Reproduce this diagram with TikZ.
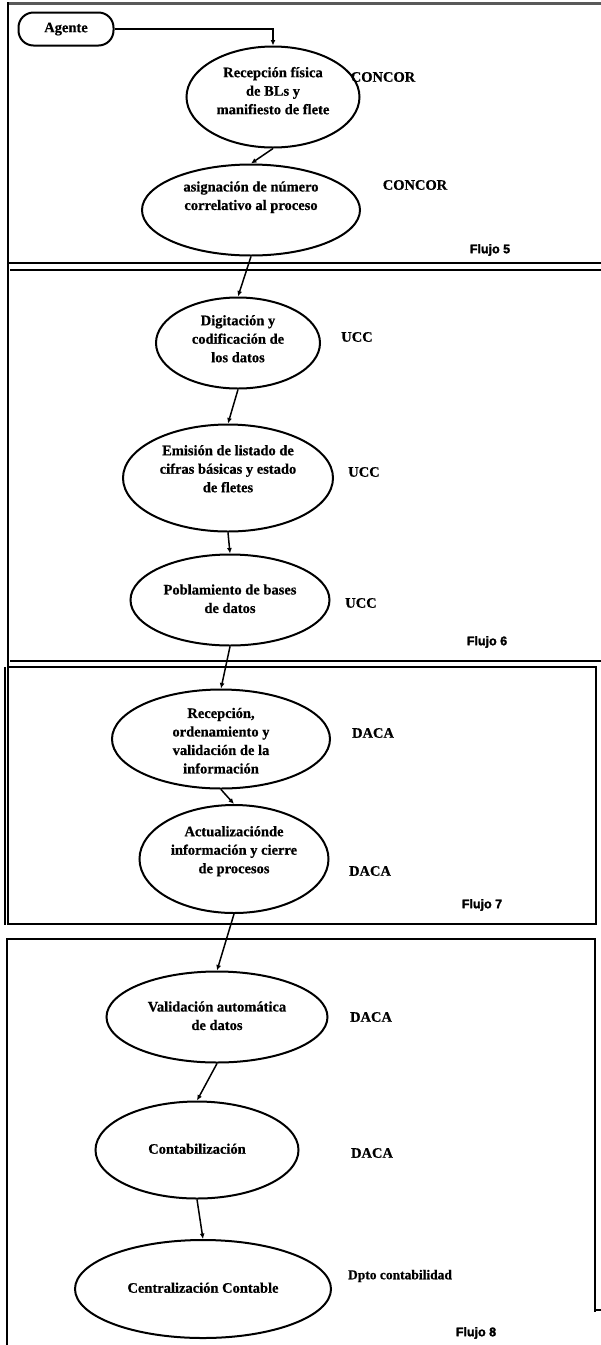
\documentclass[tikz,border=0pt]{standalone}
\usepackage{fontspec}
\setmainfont{Liberation Serif}[BoldFeatures={FakeBold=0.6}]
\newfontfamily\flujofont{Liberation Sans}[BoldFeatures={FakeBold=2}]
\usetikzlibrary{shapes.geometric,arrows.meta}
\newcommand{\etxt}[2]{\raisebox{\dimexpr #1-3.6pt\relax}[0pt][0pt]{\begin{tabular}{@{}c@{}}#2\end{tabular}}}
\tikzset{
  proc/.style={ellipse, draw, line width=2pt, inner sep=0pt, font=\bfseries\fontsize{14.5}{18.5}\selectfont},
  unit/.style={font=\bfseries\fontsize{14.5}{18.5}\selectfont, inner sep=0pt},
  flujo/.style={font=\flujofont\bfseries\fontsize{12.5}{14}\selectfont, inner sep=0pt},
  conn/.style={line width=1.5pt, -{Latex[length=5.5pt,width=5pt]}},
  frame/.style={line width=2pt}
}
\begin{document}
\begin{tikzpicture}[x=1pt,y=-1pt]
\useasboundingbox (0,0) rectangle (601,1345);
% frames
\draw[line width=3pt, black!65] (8,3) -- (601,3);
\draw[frame] (8,2) -- (8,925);
\draw[frame] (8,263) -- (601,263);
\draw[frame] (10,270) -- (601,270);
\draw[frame] (10,661) -- (601,661);
\draw[frame] (8,667) -- (596,667) -- (596,924) -- (8,924);
\draw[line width=1.4pt] (5,667) -- (5,925);
\draw[frame] (7,1345) -- (7,939) -- (595,939) -- (595,1312);
\draw[line width=1.4pt] (595,1310) -- (601,1310);
% start
\node[draw, rounded corners=15pt, line width=2pt, minimum width=95pt, minimum height=33pt, font=\bfseries\fontsize{14.5}{18.5}\selectfont] (agente) at (66,29) {Agente};
% processes
\node[proc, minimum width=173pt, minimum height=101pt] (e1) at (273,97) {\etxt{5pt}{Recepción física\\de BLs y\\manifiesto de flete}};
\node[proc, minimum width=218pt, minimum height=91pt] (e2) at (251,210) {\etxt{13pt}{asignación de número\\correlativo al proceso}};
\node[proc, minimum width=164pt, minimum height=91pt] (e3) at (238,343) {\etxt{3pt}{Digitación y\\codificación de\\los datos}};
\node[proc, minimum width=210pt, minimum height=107pt] (e4) at (228,478) {\etxt{8pt}{Emisión de listado de\\cifras básicas y estado\\de fletes}};
\node[proc, minimum width=199pt, minimum height=91pt] (e5) at (230,600) {\etxt{0pt}{Poblamiento de bases\\de datos}};
\node[proc, minimum width=218pt, minimum height=99pt] (e6) at (221,739) {\etxt{-3pt}{Recepción,\\ordenamiento y\\validación de la\\información}};
\node[proc, minimum width=189pt, minimum height=108pt] (e7) at (234,859) {\etxt{8pt}{Actualizaciónde\\información y cierre\\de procesos}};
\node[proc, minimum width=221pt, minimum height=91pt] (e8) at (217,1017) {\etxt{0pt}{Validación automática\\de datos}};
\node[proc, minimum width=203pt, minimum height=97pt] (e9) at (197,1150) {\etxt{0pt}{Contabilización}};
\node[proc, minimum width=256pt, minimum height=98pt] (e10) at (203,1289) {\etxt{0pt}{Centralización Contable}};
% units
\node[unit] (u1) at (383,77) {CONCOR};
\node[unit] (u2) at (415,185) {CONCOR};
\node[unit] (u3) at (357,337) {UCC};
\node[unit] (u4) at (364,472) {UCC};
\node[unit] (u5) at (361,603) {UCC};
\node[unit] (u6) at (373,733) {DACA};
\node[unit] (u7) at (370,871) {DACA};
\node[unit] (u8) at (371,1017) {DACA};
\node[unit] (u9) at (372,1153) {DACA};
\node[unit, font=\bfseries\fontsize{13.5}{16}\selectfont] (u10) at (400,1276) {Dpto contabilidad};
% flow labels
\node[flujo] (f5) at (490,250) {Flujo 5};
\node[flujo] (f6) at (487,642) {Flujo 6};
\node[flujo] (f7) at (482,905) {Flujo 7};
\node[flujo] (f8) at (476,1333) {Flujo 8};
% connectors
\draw[conn] (agente.east) -| (e1.north);
\draw[conn] (e1.south) -- (e2.north);
\draw[conn] (e2.south) -- (e3.north);
\draw[conn] (e3.south) -- (e4.north);
\draw[conn] (e4.south) -- (e5.north);
\draw[conn] (e5.south) -- (e6.north);
\draw[conn] (e6.south) -- (e7.north);
\draw[conn] (e7.south) -- (e8.north);
\draw[conn] (e8.south) -- (e9.north);
\draw[conn] (e9.south) -- (e10.north);
\end{tikzpicture}
\end{document}
